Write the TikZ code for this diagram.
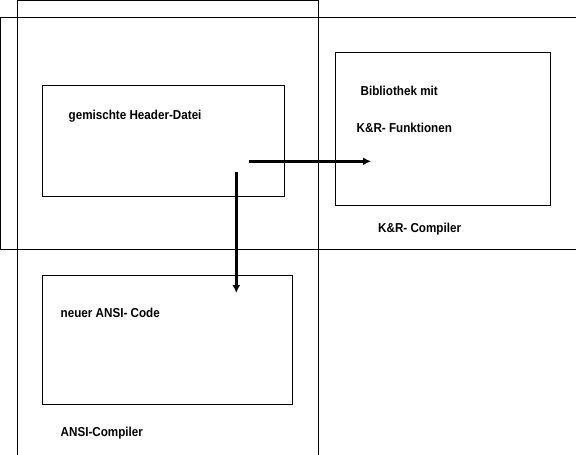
\documentclass[tikz,border=0pt]{standalone}
\usepackage{fontspec}
\setmainfont{Liberation Sans}
\newfontfamily\labelfont[FakeStretch=0.9]{Liberation Sans}
\usetikzlibrary{arrows.meta}
\begin{document}
\begin{tikzpicture}[x=1bp,y=-1bp,
  box/.style={draw=black,line width=1bp,inner sep=0pt,rectangle},
  lbl/.style={anchor=west,inner sep=0pt,font=\labelfont\bfseries\fontsize{13}{15}\selectfont},
  flow/.style={line width=3bp,-{Latex[length=8bp,width=8bp]}}]
\useasboundingbox (0,0) rectangle (576,455);
\clip (0,0) rectangle (576,455);
% compiler areas
\node[box,minimum width=301bp,minimum height=480bp] (ansiarea) at (318.5-150.5,0.5+240) {};
\node[box,minimum width=600bp,minimum height=232bp] (krarea) at (1+300,17.5+116) {};
% boxes
\node[box,minimum width=241bp,minimum height=111bp] (header) at (163.5,141.5) {};
\node[box,minimum width=215bp,minimum height=153bp] (lib) at (442.5,129.5) {};
\node[box,minimum width=249bp,minimum height=129bp] (ansi) at (167.5,339.7) {};
% labels
\node[lbl] (t1) at (68.5,116) {gemischte Header-Datei};
\node[lbl] (t2) at (360.5,90.5) {Bibliothek mit};
\node[lbl] (t3) at (356.5,128) {K\&R- Funktionen};
\node[lbl] (t4) at (378,229) {K\&R- Compiler};
\node[lbl] (t5) at (60.5,313) {neuer ANSI- Code};
\node[lbl] (t6) at (60.5,433) {ANSI-Compiler};
% arrows
\coordinate (h1) at (248.5,161.3);
\coordinate (h2) at (371,161.3);
\coordinate (v1) at (236.3,172);
\coordinate (v2) at (236.3,293);
\draw[flow] (h1) -- (h2);
\draw[flow] (v1) -- (v2);
\end{tikzpicture}
\end{document}
